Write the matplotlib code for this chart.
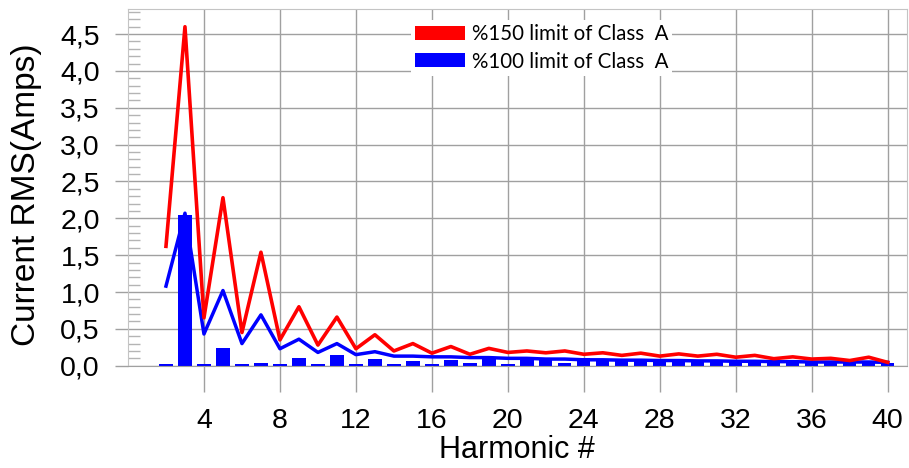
import matplotlib
matplotlib.use('Agg')
import matplotlib.pyplot as plt
import numpy as np
from matplotlib.ticker import MultipleLocator, FuncFormatter
from matplotlib.patches import Patch

plt.rcParams['font.family'] = ['Liberation Sans', 'DejaVu Sans']

harmonics = list(range(2, 41))

# %150 limit of Class A (red line)
limit_150 = [1.62, 4.60, 0.65, 2.28, 0.45, 1.54, 0.35, 0.80, 0.28, 0.66,
             0.23, 0.42, 0.20, 0.30, 0.17, 0.26, 0.155, 0.235, 0.18, 0.20,
             0.175, 0.20, 0.155, 0.175, 0.14, 0.17, 0.13, 0.16, 0.13, 0.155,
             0.115, 0.14, 0.095, 0.12, 0.09, 0.10, 0.07, 0.115, 0.045]

# %100 limit of Class A (blue line)
limit_100 = [1.08, 2.07, 0.43, 1.02, 0.30, 0.69, 0.23, 0.36, 0.18, 0.30,
             0.15, 0.19, 0.13, 0.13, 0.12, 0.12, 0.11, 0.11, 0.10, 0.10,
             0.09, 0.09, 0.08, 0.08, 0.075, 0.075, 0.07, 0.07, 0.065, 0.065,
             0.06, 0.06, 0.055, 0.055, 0.05, 0.05, 0.05, 0.05, 0.045]

# measured harmonic currents (blue bars)
measured = [0.025, 2.05, 0.025, 0.24, 0.025, 0.04, 0.025, 0.105, 0.025, 0.15,
            0.02, 0.085, 0.02, 0.065, 0.025, 0.075, 0.04, 0.10, 0.02, 0.10,
            0.09, 0.03, 0.11, 0.08, 0.08, 0.07, 0.07, 0.07, 0.06, 0.06,
            0.06, 0.06, 0.055, 0.055, 0.05, 0.05, 0.05, 0.05, 0.04]

fig = plt.figure(figsize=(9.09, 4.68), dpi=100)
ax = fig.add_axes([0.1408, 0.2186, 0.8567, 0.7614])

ax.bar(harmonics, measured, width=0.7, color='#0000ff', zorder=2)
ax.plot(harmonics, limit_100, color='#0000ff', lw=2.5, zorder=3)
ax.plot(harmonics, limit_150, color='#ff0000', lw=2.6, zorder=4)

ax.set_xlim(0, 41)
ax.set_ylim(0, 4.836)
ax.set_xticks(range(4, 41, 4))
ax.set_yticks(np.arange(0, 4.6, 0.5))
ax.yaxis.set_minor_locator(MultipleLocator(0.1))
ax.yaxis.set_major_formatter(FuncFormatter(lambda v, p: f'{v:.1f}'.replace('.', ',')))

ax.grid(True, which='major', color='#a0a0a0', lw=1)
ax.set_axisbelow(True)
ax.tick_params(axis='x', which='major', length=18.7, width=1, color='#a0a0a0',
               pad=11.5, labelsize=20.5)
ax.tick_params(axis='y', which='major', length=9.4, width=1, color='#a0a0a0',
               pad=10.8, labelsize=20.5)
ax.tick_params(axis='y', which='minor', direction='in', length=8.6, width=1,
               color='#b4b4b4')

for side in ['top', 'right', 'left']:
    ax.spines[side].set_color('#c4c4c4')
ax.spines['bottom'].set_color('#a0a0a0')

ax.set_ylabel('Current RMS(Amps)', fontsize=24)
ax.yaxis.set_label_coords(-0.1297, 0.479)
ax.yaxis.label.set_va('center')
ax.set_xlabel('Harmonic #', fontsize=22)
ax.xaxis.set_label_coords(0.5, -0.2365)
ax.xaxis.label.set_va('center')

handles = [Patch(facecolor='#ff0000', edgecolor='none', label='%150 limit of Class  A'),
           Patch(facecolor='#0000ff', edgecolor='none', label='%100 limit of Class  A')]
ax.legend(handles=handles, loc='upper left', bbox_to_anchor=(0.3634, 0.971),
          frameon=True, facecolor='white', edgecolor='none', framealpha=1,
          fancybox=False, prop={'family': 'Lato', 'size': 14.8},
          handlelength=2.45, handleheight=0.68, handletextpad=0.3,
          labelspacing=0.38, borderpad=0.2, borderaxespad=0)

fig.savefig('out.png', dpi=100)
plt.close()
